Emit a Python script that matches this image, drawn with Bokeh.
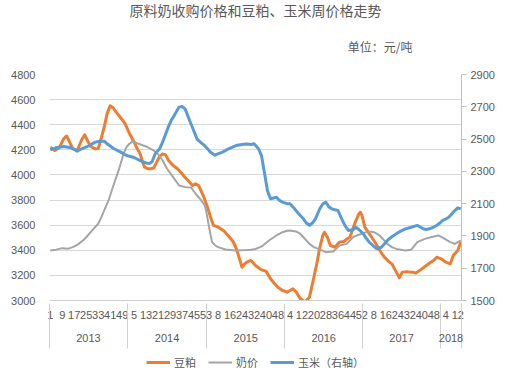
from bokeh.plotting import figure
from bokeh.layouts import column
from bokeh.models import (Range1d, LinearAxis, FixedTicker, Legend, LegendItem, Title)
from bokeh.embed import file_html
from bokeh.resources import INLINE

# ---------------- data ----------------
title_text = "原料奶收购价格和豆粕、玉米周价格走势"
unit_text = "单位：元/吨"
year_names = ["2013", "2014", "2015", "2016", "2017", "2018"]
year_weeks = [52, 53, 52, 52, 52, 14]          # weeks shown per year
left_ticks = [3000, 3200, 3400, 3600, 3800, 4000, 4200, 4400, 4600, 4800]
right_ticks = [1500, 1700, 1900, 2100, 2300, 2500, 2700, 2900]
series_names = ["豆粕", "奶价", "玉米（右轴）"]

# 豆粕 (left axis) : week index -> price
soy_week = [0, 3, 6, 9, 11, 13, 15, 18, 21, 23, 25, 27, 30, 32, 34, 36, 38, 40, 42, 44, 46, 48, 50, 53, 56,
            58, 60, 62, 63, 65, 67, 69, 71, 73, 75, 77, 79, 82, 85, 88, 90, 92, 95, 97, 99, 102, 105, 107,
            109, 111, 113, 116, 119, 122, 124, 126, 128, 130, 132, 134, 137, 141, 144, 147, 150, 152, 155,
            158, 160, 162, 164, 167, 170, 173, 176, 178, 180, 182, 183, 185, 187, 190, 193, 196, 198, 200,
            202, 204, 206, 207, 208, 210, 213, 216, 218, 220, 223, 226, 228, 231, 233, 235, 238, 240, 242,
            244, 248, 251, 254, 256, 258, 261, 264, 267, 269, 272, 274]
soy_price = [4220, 4195, 4215, 4290, 4310, 4260, 4210, 4195, 4280, 4320, 4270, 4227, 4208, 4210, 4290, 4380,
             4490, 4550, 4535, 4500, 4470, 4440, 4407, 4328, 4261, 4210, 4168, 4090, 4062, 4050, 4049, 4055,
             4100, 4147, 4168, 4160, 4115, 4075, 4049, 4009, 3980, 3956, 3916, 3929, 3916, 3840, 3743, 3664,
             3597, 3590, 3578, 3553, 3514, 3470, 3420, 3345, 3265, 3295, 3310, 3319, 3279, 3244, 3234, 3173,
             3130, 3106, 3080, 3066, 3080, 3093, 3070, 3013, 2990, 3026, 3186, 3300, 3425, 3520, 3544, 3504,
             3438, 3425, 3465, 3470, 3490, 3504, 3571, 3637, 3690, 3703, 3680, 3584, 3531, 3478, 3440, 3398,
             3345, 3310, 3292, 3226, 3181, 3226, 3230, 3226, 3225, 3218, 3252, 3279, 3305, 3320, 3345, 3332,
             3305, 3292, 3358, 3398, 3465]

# 奶价 (left axis)
milk_week = [0, 4, 8, 12, 15, 17, 19, 22, 24, 28, 32, 34, 36, 39, 42, 44, 46, 49, 51, 53, 55, 57, 59, 62, 64,
             67, 69, 72, 75, 78, 82, 86, 90, 94, 97, 100, 103, 104, 106, 108, 110, 112, 117, 124, 131, 134,
             137, 140, 142, 146, 151, 155, 158, 160, 164, 167, 169, 173, 176, 179, 184, 189, 193, 198, 202,
             205, 208, 212, 216, 219, 221, 225, 228, 231, 237, 241, 245, 250, 254, 259, 262, 267, 270, 274]
milk_price = [3398, 3405, 3417, 3413, 3425, 3438, 3451, 3480, 3504, 3558, 3611, 3660, 3717, 3800, 3910, 3980,
              4050, 4170, 4225, 4250, 4265, 4258, 4248, 4235, 4227, 4208, 4195, 4165, 4115, 4049, 3982, 3916,
              3903, 3900, 3850, 3810, 3760, 3720, 3584, 3465, 3440, 3425, 3406, 3398, 3402, 3405, 3410, 3425,
              3438, 3478, 3518, 3544, 3555, 3558, 3550, 3530, 3504, 3451, 3425, 3411, 3385, 3390, 3438, 3451,
              3504, 3520, 3531, 3550, 3545, 3525, 3504, 3451, 3425, 3411, 3398, 3405, 3465, 3491, 3504, 3518,
              3500, 3465, 3451, 3478]

# 玉米 (right axis)
corn_week = [0, 4, 9, 14, 18, 21, 26, 30, 33, 36, 38, 42, 47, 51, 56, 60, 64, 66, 68, 70, 73, 75, 79, 81, 83,
             86, 88, 90, 92, 93, 95, 98, 101, 103, 107, 110, 111, 115, 119, 124, 128, 131, 134, 136, 139, 141,
             143, 145, 147, 149, 151, 153, 155, 158, 160, 162, 164, 167, 169, 171, 173, 175, 177, 180, 182,
             184, 186, 188, 190, 192, 195, 197, 199, 202, 204, 206, 209, 211, 213, 216, 218, 221, 223, 225,
             228, 231, 234, 237, 241, 245, 247, 249, 251, 253, 256, 258, 260, 262, 264, 266, 269, 272, 274]
corn_price = [2434, 2446, 2454, 2446, 2425, 2440, 2460, 2481, 2487, 2487, 2471, 2443, 2419, 2398, 2386, 2367,
              2352, 2348, 2360, 2409, 2440, 2481, 2580, 2620, 2650, 2698, 2702, 2687, 2640, 2615, 2570, 2500,
              2475, 2460, 2419, 2400, 2405, 2419, 2440, 2460, 2466, 2470, 2466, 2471, 2440, 2398, 2290, 2180,
              2130, 2135, 2140, 2120, 2109, 2100, 2099, 2080, 2058, 2025, 2006, 1980, 1965, 1980, 2006, 2070,
              2099, 2109, 2080, 2068, 2062, 2058, 1996, 1960, 1934, 1938, 1954, 1940, 1913, 1885, 1861, 1835,
              1820, 1830, 1850, 1872, 1895, 1913, 1930, 1944, 1954, 1965, 1955, 1944, 1940, 1944, 1955, 1965,
              1980, 1996, 2005, 2016, 2047, 2074, 2068]

# ---------------- derived tick positions ----------------
n_weeks = sum(year_weeks)
tick_pos, tick_lab = [], []
bounds = [-0.5]
g = 0
for yw in year_weeks:
    for w in range(1, yw + 1):
        if g % 8 == 0:
            tick_pos.append(g)
            tick_lab.append(str(w))
        g += 1
    bounds.append(g - 0.5)
year_centers = [(bounds[i] + bounds[i + 1]) / 2 for i in range(len(year_weeks))]

# ---------------- layout ----------------
W = 516
H_MAIN, H_LEG = 349, 26
TXT = "#595959"
NUM_FONT = "Liberation Sans"
CJK_FONT = "Noto Sans CJK SC"
COLORS = ["#ED7D31", "#A5A5A5", "#5B9BD5"]
WIDTHS = [3, 2, 3]

p = figure(width=W, height=H_MAIN, x_range=Range1d(-0.5, n_weeks - 0.5),
           y_range=Range1d(left_ticks[0], left_ticks[-1]),
           output_backend="svg", toolbar_location=None, title=None,
           min_border_left=49, min_border_right=55, min_border_top=74, min_border_bottom=49,
           outline_line_color=None, background_fill_color="white", border_fill_color="white")
p.extra_y_ranges = {"corn": Range1d(right_ticks[0], right_ticks[-1])}

# titles (first added is nearest the frame)
p.add_layout(Title(text=unit_text, align="right", offset=49, standoff=39,
                   text_font=CJK_FONT, text_font_size="12px", text_font_style="normal",
                   text_color=TXT), "above")
p.add_layout(Title(text=title_text, align="center", offset=3, standoff=-6,
                   text_font=CJK_FONT, text_font_size="14px", text_font_style="normal",
                   text_color=TXT), "above")

# grid
p.xgrid.visible = False
p.ygrid.ticker = FixedTicker(ticks=left_ticks)
p.ygrid.grid_line_color = "#D9D9D9"
p.ygrid.grid_line_width = 1

# left axis
ya = p.yaxis[0]
ya.ticker = FixedTicker(ticks=left_ticks)
ya.axis_line_color = None
ya.major_tick_line_color = None
ya.minor_tick_line_color = None
ya.major_label_standoff = 8
ya.major_label_text_font = NUM_FONT
ya.major_label_text_font_size = "11px"
ya.major_label_text_color = TXT

# right axis
ra = LinearAxis(y_range_name="corn", ticker=FixedTicker(ticks=right_ticks))
ra.axis_line_color = "#BFBFBF"
ra.major_tick_line_color = "#BFBFBF"
ra.major_tick_out = 5
ra.major_tick_in = 0
ra.minor_tick_line_color = None
ra.major_label_standoff = 4
ra.major_label_text_font = NUM_FONT
ra.major_label_text_font_size = "11px"
ra.major_label_text_color = TXT
p.add_layout(ra, "right")

# bottom axis 1: week numbers
xa = p.xaxis[0]
xa.ticker = FixedTicker(ticks=tick_pos)
xa.major_label_overrides = dict(zip(tick_pos, tick_lab))
xa.axis_line_color = "#D0D0D0"
xa.major_tick_line_color = None
xa.minor_tick_line_color = None
xa.major_label_standoff = 4
xa.major_label_text_font = NUM_FONT
xa.major_label_text_font_size = "11px"
xa.major_label_text_color = TXT

# bottom axis 2: years, with year separators as minor ticks
xa2 = LinearAxis(ticker=FixedTicker(ticks=year_centers, minor_ticks=bounds))
xa2.major_label_overrides = dict(zip(year_centers, year_names))
xa2.axis_line_color = None
xa2.major_tick_line_color = None
xa2.minor_tick_line_color = "#D0D0D0"
xa2.minor_tick_in = 18
xa2.minor_tick_out = 27
xa2.major_label_standoff = -15
xa2.major_label_text_font = NUM_FONT
xa2.major_label_text_font_size = "11px"
xa2.major_label_text_color = TXT
p.add_layout(xa2, "below")

# series
r_soy = p.line(soy_week, soy_price, line_color=COLORS[0], line_width=WIDTHS[0], line_join="round")
r_milk = p.line(milk_week, milk_price, line_color=COLORS[1], line_width=WIDTHS[1], line_join="round")
r_corn = p.line(corn_week, corn_price, line_color=COLORS[2], line_width=WIDTHS[2], line_join="round",
                y_range_name="corn")

# legend strip (separate small figure under the chart; its lines lie outside its view)
lg = figure(width=W, height=H_LEG, x_range=Range1d(0, 1), y_range=Range1d(0, 1),
            output_backend="svg", toolbar_location=None, title=None, min_border=0,
            outline_line_color=None, background_fill_color="white", border_fill_color="white")
lg.axis.visible = False
lg.grid.visible = False
series_xy = [(soy_week, soy_price), (milk_week, milk_price), (corn_week, corn_price)]
proxies = [lg.line(xs, ys, line_color=c, line_width=w)
           for (xs, ys), c, w in zip(series_xy, COLORS, WIDTHS)]
legend = Legend(items=[LegendItem(label=n, renderers=[r]) for n, r in zip(series_names, proxies)],
                location="center", orientation="horizontal",
                glyph_width=24, glyph_height=14, label_standoff=4, spacing=12,
                padding=0, margin=0, border_line_color=None, background_fill_alpha=0,
                label_text_font=CJK_FONT, label_text_font_size="11px", label_text_color=TXT,
                label_height=14)
lg.add_layout(legend, "center")

page = column(p, lg, spacing=0)
open("out.html", "w").write(file_html(page, INLINE))
